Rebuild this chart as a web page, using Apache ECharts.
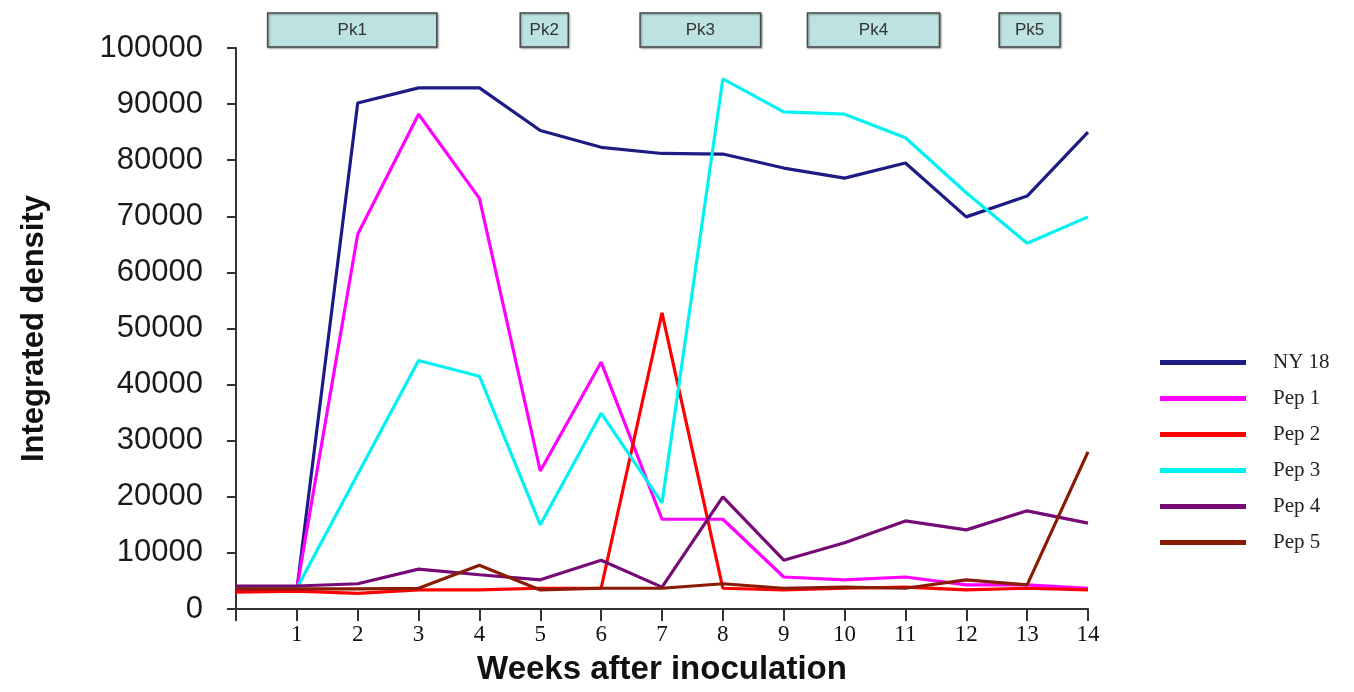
<!DOCTYPE html>
<html>
<head>
<meta charset="utf-8">
<script src="https://cdn.jsdelivr.net/npm/echarts@6/dist/echarts.min.js"></script>
<style>
  html, body { margin: 0; padding: 0; background: #fff; }
  #container { width: 1354px; height: 692px; }
</style>
</head>
<body>
<div id="container"></div>
<script>
var weeks = [0, 1, 2, 3, 4, 5, 6, 7, 8, 9, 10, 11, 12, 13, 14];
var ny18 = [3400, 3400, 90200, 92900, 92900, 85300, 82300, 81200, 81100, 78600, 76800, 79500, 69900, 73600, 85000];
var pep1 = [3500, 3700, 66800, 88200, 73200, 24600, 44000, 16000, 16000, 5700, 5200, 5700, 4300, 4300, 3700];
var pep2 = [3000, 3200, 2800, 3400, 3400, 3700, 3700, 52800, 3700, 3400, 3700, 3900, 3400, 3700, 3400];
var pep3 = [3700, 3700, 24000, 44300, 41500, 15000, 34900, 18900, 94500, 88600, 88200, 84000, 74200, 65200, 69900];
var pep4 = [4100, 4100, 4500, 7100, 6100, 5200, 8700, 3900, 20000, 8700, 11800, 15700, 14100, 17500, 15300];
var pep5 = [3600, 3600, 3600, 3700, 7800, 3400, 3700, 3700, 4500, 3700, 3900, 3700, 5200, 4300, 28000];

var seriesNames = ['NY 18', 'Pep 1', 'Pep 2', 'Pep 3', 'Pep 4', 'Pep 5'];
var seriesData = [ny18, pep1, pep2, pep3, pep4, pep5];
var colors = ['#1c1c84', '#ff00ff', '#ff0000', '#00f2f2', '#760b76', '#8a1c06'];

// peak windows (in weeks) shown as boxes above the plot
var peakNames = ['Pk1', 'Pk2', 'Pk3', 'Pk4', 'Pk5'];
var peakStart = [0.52, 4.67, 6.64, 9.39, 12.54];
var peakEnd = [3.3, 5.46, 8.62, 11.56, 13.54];

var myChart = echarts.init(document.getElementById('container'));

var series = seriesNames.map(function (name, i) {
    return {
        name: name,
        type: 'line',
        showSymbol: false,
        symbol: 'none',
        animation: false,
        lineStyle: { width: 3.2, color: colors[i] },
        itemStyle: { color: colors[i] },
        data: weeks.map(function (w, j) { return [w, seriesData[i][j]]; })
    };
});

myChart.setOption({
    animation: false,
    grid: { left: 236, right: 266, top: 48, bottom: 83 },
    legend: {
        orient: 'vertical',
        left: 1155,
        top: 347,
        itemGap: 15,
        itemWidth: 86,
        itemHeight: 5,
        icon: 'rect',
        data: seriesNames,
        textStyle: {
            fontFamily: 'Liberation Serif',
            fontSize: 21,
            color: '#222',
            padding: [0, 0, 0, 22]
        }
    },
    xAxis: {
        type: 'value',
        min: 0,
        max: 14,
        interval: 1,
        name: 'Weeks after inoculation',
        nameLocation: 'middle',
        nameGap: 44,
        nameTextStyle: {
            fontFamily: 'Liberation Sans',
            fontWeight: 'bold',
            fontSize: 33,
            color: '#111'
        },
        splitLine: { show: false },
        axisLine: { lineStyle: { color: '#333', width: 2 } },
        axisTick: { length: 12, lineStyle: { color: '#333', width: 2 } },
        axisLabel: {
            margin: 14,
            fontFamily: 'Liberation Serif',
            fontSize: 23,
            color: '#111',
            formatter: function (v) { return v === 0 ? '' : String(v); }
        }
    },
    yAxis: {
        type: 'value',
        min: 0,
        max: 100000,
        interval: 10000,
        name: 'Integrated density',
        nameLocation: 'middle',
        nameGap: 186,
        nameTextStyle: {
            fontFamily: 'Liberation Sans',
            fontWeight: 'bold',
            fontSize: 31,
            color: '#111'
        },
        splitLine: { show: false },
        axisLine: { show: true, lineStyle: { color: '#333', width: 2 } },
        axisTick: { show: true, length: 9, lineStyle: { color: '#333', width: 2 } },
        axisLabel: {
            margin: 33,
            fontFamily: 'Liberation Sans',
            fontSize: 31,
            color: '#1a1a1a',
            formatter: function (v) { return String(v); }
        }
    },
    series: series
});

// place the peak boxes using the x axis scale
var boxes = peakNames.map(function (name, i) {
    var x0 = myChart.convertToPixel({ xAxisIndex: 0 }, peakStart[i]);
    var x1 = myChart.convertToPixel({ xAxisIndex: 0 }, peakEnd[i]);
    return {
        type: 'group',
        children: [{
            type: 'rect',
            shape: { x: x0, y: 13, width: x1 - x0, height: 34 },
            style: {
                fill: '#bce2e2',
                stroke: '#4a4a4a',
                lineWidth: 1.5,
                shadowBlur: 2,
                shadowColor: 'rgba(0,0,0,0.35)',
                shadowOffsetX: 1,
                shadowOffsetY: 1
            }
        }, {
            type: 'text',
            style: {
                x: (x0 + x1) / 2,
                y: 30,
                text: name,
                align: 'center',
                verticalAlign: 'middle',
                fontFamily: 'Liberation Sans',
                fontSize: 17,
                fill: '#333'
            }
        }]
    };
});
myChart.setOption({ graphic: boxes });
</script>
</body>
</html>
